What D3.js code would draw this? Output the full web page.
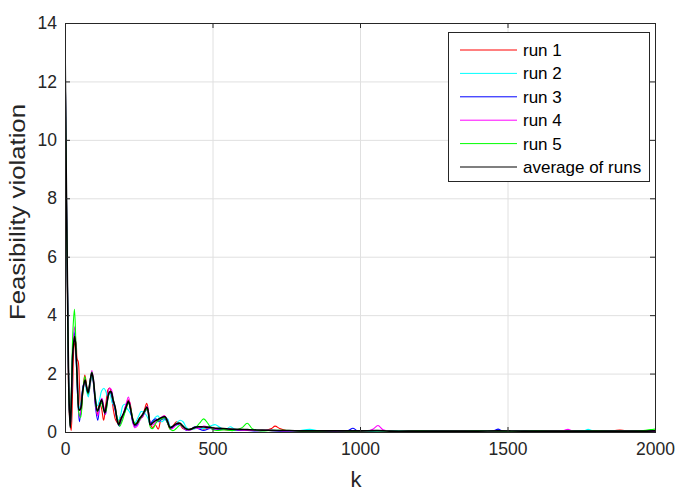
<!DOCTYPE html>
<html><head><meta charset="utf-8">
<script src="https://cdn.jsdelivr.net/npm/d3@7"></script>
<style>
body{margin:0;background:#fff;}
svg{display:block;font-family:"Liberation Sans",Arial,sans-serif;}
</style></head>
<body>
<svg id="chart" width="678" height="498"></svg>
<script>
const xTicks = [0, 500, 1000, 1500, 2000];
const yTicks = [0, 2, 4, 6, 8, 10, 12, 14];
const seriesNames = ["run 1", "run 2", "run 3", "run 4", "run 5", "average of runs"];
const seriesColors = ["#ff0000", "#00ffff", "#0000ff", "#ff00ff", "#00ff00", "#000000"];

const run1 = [[0,13.4],[4,9],[9,4.2],[15,0.6],[21,0.05],[26,1.5],[32,3.0],[37,3.1],[41,2.5],[45,2.4],[49,1.6],[54,0.6],[60,1.3],[67,1.95],[72,1.7],[78,1.3],[84,1.5],[91,2.0],[97,1.7],[104,0.9],[110,0.6],[117,1.0],[124,0.8],[131,0.4],[138,0.9],[146,1.45],[152,1.5],[158,1.2],[165,0.7],[172,0.4],[180,0.3],[188,0.5],[197,0.55],[205,0.75],[214,1.1],[220,1.0],[228,0.5],[236,0.2],[245,0.35],[254,0.5],[262,0.5],[270,0.78],[277,0.98],[283,0.7],[289,0.3],[297,0.15],[306,0.25],[316,0.1],[326,0.45],[338,0.55],[348,0.3],[356,0.1],[366,0.2],[378,0.35],[390,0.25],[400,0.12],[412,0.08],[426,0.1],[440,0.12],[455,0.15],[470,0.1],[490,0.15],[510,0.1],[540,0.08],[570,0.06],[600,0.08],[640,0.05],[680,0.06],[700,0.12],[712,0.2],[728,0.12],[750,0.05],[780,0.04],[830,0.03],[880,0.03],[940,0.04],[1000,0.03],[1060,0.04],[1120,0.03],[1200,0.03],[1300,0.04],[1400,0.03],[1500,0.04],[1600,0.03],[1700,0.03],[1800,0.04],[1860,0.05],[1881,0.07],[1900,0.04],[1950,0.03],[2000,0.03]];
const run2 = [[0,13.5],[4,9],[9,4.5],[14,1.0],[18,0.2],[22,1.5],[27,3.0],[33,3.5],[38,2.5],[43,1.2],[48,0.8],[54,1.0],[61,1.5],[67,1.7],[73,1.4],[79,1.2],[85,1.6],[92,1.95],[97,1.7],[103,1.2],[110,0.9],[117,1.1],[124,1.4],[132,1.5],[138,1.4],[145,1.2],[152,1.3],[160,1.0],[167,0.9],[174,0.6],[181,0.4],[189,0.6],[196,0.9],[203,0.95],[211,0.8],[218,0.7],[226,0.55],[233,0.3],[240,0.35],[250,0.55],[258,0.7],[266,0.68],[274,0.6],[282,0.45],[289,0.25],[297,0.35],[306,0.5],[316,0.55],[326,0.35],[338,0.42],[348,0.45],[356,0.2],[366,0.15],[378,0.3],[390,0.4],[400,0.35],[412,0.15],[424,0.08],[438,0.1],[452,0.14],[470,0.12],[492,0.2],[510,0.25],[526,0.15],[545,0.08],[560,0.18],[575,0.1],[593,0.07],[620,0.08],[660,0.05],[700,0.06],[740,0.04],[790,0.05],[830,0.09],[860,0.04],[920,0.03],[980,0.05],[1030,0.03],[1100,0.04],[1200,0.05],[1280,0.03],[1350,0.04],[1420,0.03],[1500,0.04],[1600,0.04],[1700,0.03],[1760,0.05],[1773,0.09],[1790,0.04],[1850,0.03],[1920,0.04],[2000,0.03]];
const run3 = [[0,13.5],[4,9],[9,4.4],[14,1.0],[18,0.2],[22,1.3],[27,2.9],[33,3.4],[38,2.5],[43,1.2],[49,0.35],[55,0.9],[62,1.6],[68,1.7],[74,1.5],[79,1.3],[85,1.75],[91,2.05],[97,1.6],[104,0.8],[111,0.4],[118,0.9],[125,1.1],[131,0.8],[137,0.6],[144,1.1],[151,1.35],[157,1.3],[164,1.0],[171,0.7],[178,0.35],[184,0.2],[192,0.45],[200,0.65],[208,0.95],[215,1.0],[222,0.75],[229,0.35],[236,0.2],[245,0.25],[254,0.45],[264,0.55],[272,0.7],[279,0.8],[285,0.5],[290,0.3],[298,0.4],[308,0.45],[316,0.35],[326,0.42],[338,0.45],[348,0.3],[358,0.12],[368,0.18],[380,0.25],[392,0.25],[404,0.12],[414,0.05],[428,0.1],[442,0.18],[455,0.1],[470,0.05],[492,0.12],[510,0.08],[540,0.1],[570,0.05],[600,0.06],[640,0.04],[690,0.05],[740,0.03],[800,0.04],[860,0.03],[920,0.04],[960,0.05],[976,0.13],[992,0.04],[1040,0.03],[1100,0.04],[1180,0.03],[1260,0.04],[1340,0.03],[1420,0.04],[1455,0.05],[1468,0.1],[1482,0.04],[1510,0.03],[1530,0.05],[1545,0.03],[1560,0.05],[1580,0.03],[1650,0.04],[1750,0.03],[1850,0.04],[1950,0.03],[2000,0.04]];
const run4 = [[0,13.5],[4,9],[9,4.5],[14,1.0],[18,0.15],[22,1.4],[27,3.0],[33,3.6],[38,2.6],[43,1.2],[49,0.5],[55,0.9],[62,1.5],[68,1.75],[74,1.5],[79,1.35],[85,1.75],[91,2.1],[97,1.75],[104,0.9],[111,0.55],[118,0.95],[125,1.15],[131,0.9],[137,0.6],[144,1.2],[151,1.5],[157,1.45],[164,1.1],[171,0.8],[178,0.4],[184,0.25],[192,0.45],[200,0.7],[208,1.0],[215,1.2],[222,0.85],[229,0.4],[236,0.15],[245,0.2],[254,0.4],[264,0.55],[272,0.75],[279,0.88],[285,0.55],[290,0.25],[298,0.25],[308,0.35],[316,0.4],[326,0.5],[338,0.55],[348,0.38],[358,0.1],[368,0.15],[380,0.28],[392,0.25],[404,0.12],[414,0.06],[428,0.08],[442,0.14],[455,0.12],[470,0.2],[492,0.14],[510,0.1],[540,0.12],[570,0.08],[600,0.06],[640,0.05],[690,0.06],[740,0.04],[800,0.05],[860,0.03],[920,0.04],[980,0.03],[1030,0.04],[1045,0.1],[1061,0.22],[1078,0.08],[1100,0.03],[1180,0.04],[1260,0.03],[1340,0.04],[1420,0.03],[1500,0.04],[1560,0.03],[1640,0.04],[1690,0.05],[1705,0.09],[1720,0.04],[1800,0.03],[1900,0.04],[2000,0.03]];
const run5 = [[0,13.4],[4,9],[9,4.4],[14,1.0],[18,0.15],[22,1.6],[27,3.5],[32,4.2],[37,3.0],[42,1.5],[48,0.6],[53,0.5],[60,1.3],[67,1.9],[72,1.6],[78,1.3],[84,1.7],[91,2.05],[97,1.7],[104,1.0],[110,0.7],[117,0.85],[124,1.0],[131,0.75],[138,0.7],[146,1.2],[153,1.4],[159,1.3],[166,1.0],[172,0.75],[179,0.4],[186,0.2],[193,0.35],[201,0.6],[209,0.85],[216,1.0],[223,0.8],[230,0.45],[237,0.3],[246,0.3],[255,0.45],[264,0.6],[272,0.72],[279,0.8],[285,0.5],[290,0.15],[298,0.12],[308,0.3],[318,0.4],[328,0.45],[338,0.5],[348,0.3],[358,0.08],[368,0.05],[380,0.15],[392,0.25],[404,0.15],[416,0.08],[428,0.1],[442,0.15],[456,0.3],[470,0.45],[484,0.3],[498,0.1],[515,0.05],[540,0.08],[570,0.05],[600,0.15],[618,0.3],[636,0.1],[660,0.04],[700,0.05],[740,0.06],[790,0.04],[850,0.03],[920,0.05],[980,0.03],[1040,0.04],[1120,0.03],[1200,0.04],[1300,0.03],[1400,0.04],[1500,0.03],[1600,0.04],[1700,0.03],[1800,0.04],[1900,0.03],[1960,0.05],[1985,0.08],[2000,0.1]];
const average = [[0,13.45],[4,9],[9,4.4],[14,1.0],[18,0.15],[22,1.2],[27,2.8],[33,3.28],[38,2.6],[43,1.5],[48,0.75],[53,0.8],[60,1.4],[68,1.78],[73,1.55],[78,1.35],[84,1.65],[91,2.03],[96,1.8],[103,1.1],[110,0.72],[117,0.9],[124,1.1],[130,0.85],[135,0.65],[142,1.0],[150,1.35],[156,1.38],[163,1.1],[170,0.85],[176,0.45],[182,0.25],[190,0.45],[199,0.65],[207,0.85],[215,1.05],[222,0.8],[229,0.45],[236,0.25],[244,0.3],[252,0.45],[262,0.58],[271,0.75],[278,0.85],[284,0.55],[289,0.25],[296,0.3],[305,0.38],[314,0.42],[324,0.48],[339,0.52],[348,0.35],[356,0.15],[366,0.2],[378,0.28],[390,0.3],[400,0.2],[412,0.1],[424,0.09],[438,0.15],[452,0.18],[470,0.17],[492,0.16],[510,0.13],[536,0.12],[560,0.1],[593,0.09],[620,0.08],[650,0.07],[690,0.06],[717,0.05],[760,0.05],[800,0.04],[850,0.04],[900,0.04],[950,0.04],[1000,0.04],[1060,0.05],[1100,0.03],[1200,0.03],[1300,0.03],[1400,0.03],[1470,0.04],[1550,0.03],[1650,0.03],[1750,0.03],[1850,0.03],[1950,0.03],[2000,0.04]];
const allSeries = [run1, run2, run3, run4, run5, average];

const svg = d3.select("#chart");
const pL = 65, pR = 655, pT = 23, pB = 432;
const x = d3.scaleLinear().domain([0, 2000]).range([pL, pR]);
const y = d3.scaleLinear().domain([0, 14]).range([pB, pT]);
const font = '"Liberation Sans",Arial,sans-serif';

// grid
svg.append("g").selectAll("line").data(xTicks).join("line")
  .attr("x1", d => x(d) + 0.5).attr("x2", d => x(d) + 0.5).attr("y1", pT).attr("y2", pB)
  .attr("stroke", "#e0e0e0").attr("stroke-width", 1);
svg.append("g").selectAll("line").data(yTicks).join("line")
  .attr("x1", pL).attr("x2", pR).attr("y1", d => y(d) + 0.5).attr("y2", d => y(d) + 0.5)
  .attr("stroke", "#e0e0e0").attr("stroke-width", 1);

// clip
svg.append("defs").append("clipPath").attr("id", "clip")
  .append("rect").attr("x", pL).attr("y", pT).attr("width", pR - pL).attr("height", pB - pT);

const line = d3.line().x(d => x(d[0])).y(d => y(d[1])).curve(d3.curveCatmullRom.alpha(0.5));
const plot = svg.append("g").attr("clip-path", "url(#clip)");
allSeries.forEach((s, i) => {
  plot.append("path").datum(s).attr("d", line)
    .attr("fill", "none").attr("stroke", seriesColors[i])
    .attr("stroke-width", i === 5 ? 1.6 : 1.1)
    .attr("stroke-linejoin", "round");
});

// axes
function styleAxis(g) {
  g.select(".domain").remove();
  g.selectAll(".tick line").attr("stroke", "#262626");
  g.selectAll(".tick text").attr("fill", "#262626").style("font-family", font).style("font-size", "17.5px");
}
svg.append("g").attr("transform", `translate(0,${pB})`)
  .call(d3.axisBottom(x).tickValues(xTicks).tickSize(-5).tickPadding(11).tickFormat(d3.format("d")))
  .call(styleAxis);
svg.append("g").attr("transform", `translate(0,${pT})`)
  .call(d3.axisTop(x).tickValues(xTicks).tickSize(-5).tickFormat(""))
  .call(styleAxis);
svg.append("g").attr("transform", `translate(${pL},0)`)
  .call(d3.axisLeft(y).tickValues(yTicks).tickSize(-5).tickPadding(8).tickFormat(d3.format("d")))
  .call(styleAxis);
svg.append("g").attr("transform", `translate(${pR},0)`)
  .call(d3.axisRight(y).tickValues(yTicks).tickSize(-5).tickFormat(""))
  .call(styleAxis);

// box
svg.append("rect").attr("x", pL + 0.5).attr("y", pT + 0.5)
  .attr("width", pR - pL).attr("height", pB - pT)
  .attr("fill", "none").attr("stroke", "#262626").attr("stroke-width", 1);

// axis labels
svg.append("text").attr("x", (pL + pR) / 2 - 4).attr("y", 487)
  .attr("text-anchor", "middle").attr("fill", "#262626")
  .style("font-family", font).style("font-size", "22px").text("k");
svg.append("text").attr("transform", `translate(25,212) rotate(-90)`)
  .attr("text-anchor", "middle").attr("fill", "#262626")
  .attr("textLength", 216).attr("lengthAdjust", "spacingAndGlyphs")
  .style("font-family", font).style("font-size", "22px").text("Feasibility violation");

// legend
const lg = svg.append("g");
lg.append("rect").attr("x", 448.5).attr("y", 32.5).attr("width", 201).attr("height", 149)
  .attr("fill", "#fff").attr("stroke", "#262626").attr("stroke-width", 1);
seriesNames.forEach((n, i) => {
  const yy = 50 + i * 23.4;
  lg.append("line").attr("x1", 460).attr("x2", 517).attr("y1", yy).attr("y2", yy)
    .attr("stroke", seriesColors[i]).attr("stroke-width", i === 5 ? 1.2 : 1);
  lg.append("text").attr("x", 523).attr("y", yy + 6).attr("fill", "#000")
    .style("font-family", font).style("font-size", "17px").text(n);
});
</script>
</body></html>
